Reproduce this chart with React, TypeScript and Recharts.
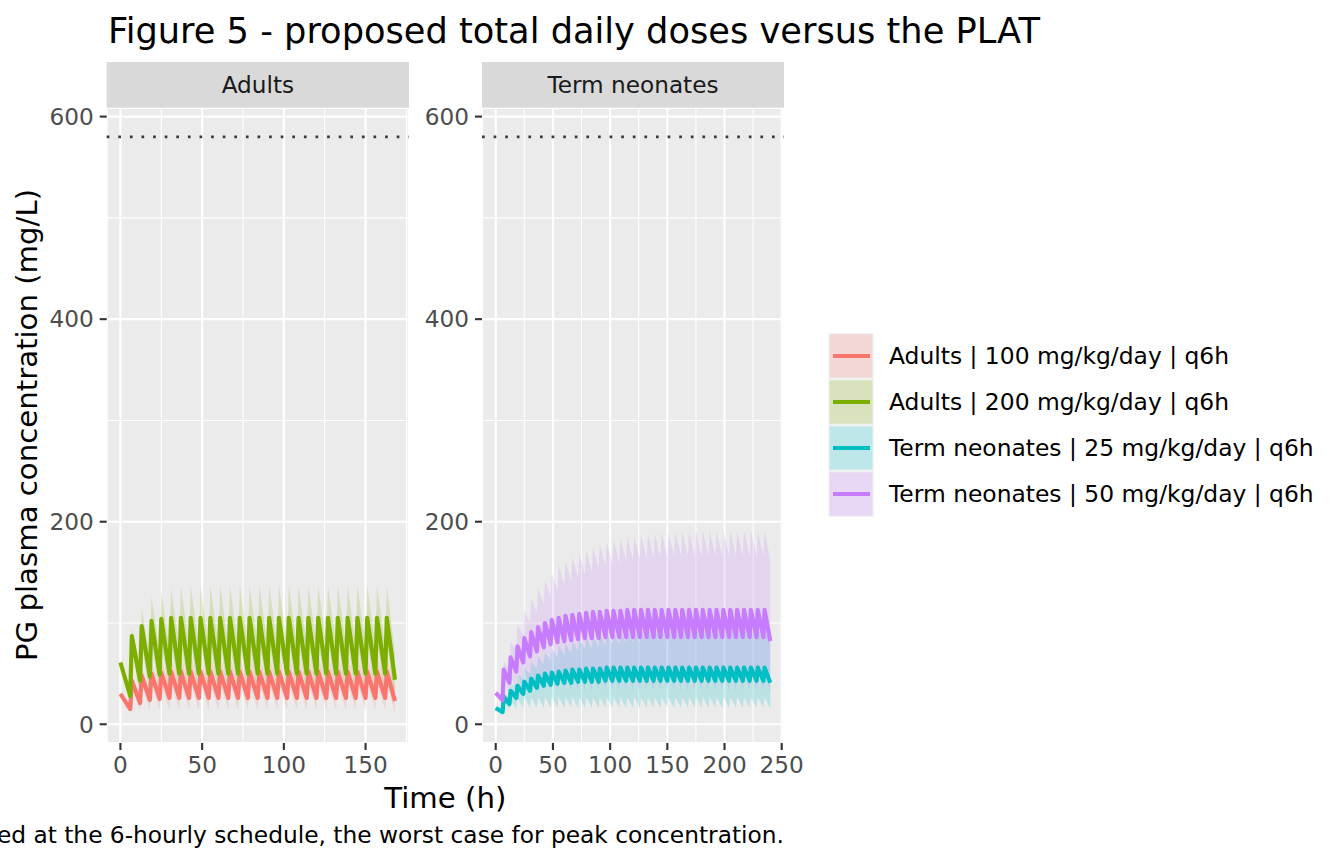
import { ComposedChart, Line, Area, XAxis, YAxis, CartesianGrid, ReferenceLine } from 'recharts';

const FONT = '"DejaVu Sans", sans-serif';

// sampling times (h): peak after each 6-hourly dose, trough just before the next one
const adultPeakHours = [0, 7, 13, 19, 25, 31, 37, 43, 49, 55, 61, 67, 73, 79, 85, 91, 97, 103, 109, 115, 121, 127, 133, 139, 145, 151, 157, 163];
const adultTroughHours = [6, 12, 18, 24, 30, 36, 42, 48, 54, 60, 66, 72, 78, 84, 90, 96, 102, 108, 114, 120, 126, 132, 138, 144, 150, 156, 162, 168];

const neoPeakHours = [0, 7, 13, 19, 25, 31, 37, 43, 49, 55, 61, 67, 73, 79, 85, 91, 97, 103, 109, 115, 121, 127, 133, 139, 145, 151, 157, 163, 169, 175, 181, 187, 193, 199, 205, 211, 217, 223, 229, 235];
const neoTroughHours = [6, 12, 18, 24, 30, 36, 42, 48, 54, 60, 66, 72, 78, 84, 90, 96, 102, 108, 114, 120, 126, 132, 138, 144, 150, 156, 162, 168, 174, 180, 186, 192, 198, 204, 210, 216, 222, 228, 234, 240];

// Adults | 100 mg/kg/day | q6h
const a100MidPeak = [30, 43, 48, 50, 51, 52, 52, 52, 52, 52, 52, 52, 52, 52, 52, 52, 52, 52, 52, 52, 52, 52, 52, 52, 52, 52, 52, 52];
const a100MidTrough = [15, 21, 24, 25, 26, 26, 26, 26, 26, 26, 26, 26, 26, 26, 26, 26, 26, 26, 26, 26, 26, 26, 26, 26, 26, 26, 26, 23];
const a100HiPeak = [31, 48, 57, 62, 65, 67, 68, 68, 68, 68, 68, 68, 68, 68, 68, 68, 68, 68, 68, 68, 68, 68, 68, 68, 68, 68, 68, 68];
const a100HiTrough = [17, 28, 33, 35, 37, 38, 38, 38, 38, 38, 38, 38, 38, 38, 38, 38, 38, 38, 38, 38, 38, 38, 38, 38, 38, 38, 38, 35];
const a100LoPeak = [29, 38, 40, 41, 41, 41, 41, 41, 41, 41, 41, 41, 41, 41, 41, 41, 41, 41, 41, 41, 41, 41, 41, 41, 41, 41, 41, 41];
const a100LoTrough = [13, 14, 14, 14, 14, 14, 14, 14, 14, 14, 14, 14, 14, 14, 14, 14, 14, 14, 14, 14, 14, 14, 14, 14, 14, 14, 14, 11];

// Adults | 200 mg/kg/day | q6h
const a200MidPeak = [61, 87, 97, 102, 104, 105, 105, 105, 105, 105, 105, 105, 105, 105, 105, 105, 105, 105, 105, 105, 105, 105, 105, 105, 105, 105, 105, 105];
const a200MidTrough = [28, 43, 47, 49, 50, 50, 50, 50, 50, 50, 50, 50, 50, 50, 50, 50, 50, 50, 50, 50, 50, 50, 50, 50, 50, 50, 50, 44];
const a200HiPeak = [62, 95, 115, 126, 131, 134, 136, 137, 137, 137, 137, 137, 137, 137, 137, 137, 137, 137, 137, 137, 137, 137, 137, 137, 137, 137, 137, 137];
const a200HiTrough = [34, 56, 66, 71, 74, 76, 77, 77, 77, 77, 77, 77, 77, 77, 77, 77, 77, 77, 77, 77, 77, 77, 77, 77, 77, 77, 77, 70];
const a200LoPeak = [58, 76, 80, 82, 82, 82, 82, 82, 82, 82, 82, 82, 82, 82, 82, 82, 82, 82, 82, 82, 82, 82, 82, 82, 82, 82, 82, 82];
const a200LoTrough = [26, 28, 28, 28, 28, 28, 28, 28, 28, 28, 28, 28, 28, 28, 28, 28, 28, 28, 28, 28, 28, 28, 28, 28, 28, 28, 28, 22];

// Term neonates | 25 mg/kg/day | q6h
const n25MidPeak = [16, 27, 33, 38, 42, 45, 48, 50, 51, 52, 53, 54, 54, 55, 55, 55, 56, 56, 56, 56, 56, 56, 56, 56, 56, 56, 56, 56, 56, 56, 56, 56, 56, 56, 56, 56, 56, 56, 56, 56];
const n25MidTrough = [12, 20, 26, 30, 33, 36, 38, 39, 40, 41, 41, 42, 42, 42, 42, 43, 43, 43, 43, 43, 43, 43, 43, 43, 43, 43, 43, 43, 43, 43, 43, 43, 43, 43, 43, 43, 43, 43, 43, 41];
const n25HiPeak = [17, 31, 41, 50, 56, 62, 67, 71, 75, 78, 80, 82, 84, 86, 87, 89, 90, 91, 92, 92, 93, 93, 94, 94, 94, 94, 95, 95, 95, 95, 95, 95, 95, 95, 95, 95, 95, 95, 95, 95];
const n25HiTrough = [14, 27, 36, 44, 50, 55, 59, 63, 66, 68, 70, 72, 74, 75, 77, 78, 79, 79, 80, 81, 81, 82, 82, 82, 82, 83, 83, 83, 83, 83, 83, 83, 83, 83, 83, 83, 83, 83, 83, 81];
const n25LoPeak = [15, 22, 25, 26, 27, 27, 27, 27, 27, 27, 27, 27, 27, 27, 27, 27, 27, 27, 27, 27, 27, 27, 27, 27, 27, 27, 27, 27, 27, 27, 27, 27, 27, 27, 27, 27, 27, 27, 27, 27];
const n25LoTrough = [11, 14, 15, 16, 16, 16, 16, 16, 16, 16, 16, 16, 16, 16, 16, 16, 16, 16, 16, 16, 16, 16, 16, 16, 16, 16, 16, 16, 16, 16, 16, 16, 16, 16, 16, 16, 16, 16, 16, 15];

// Term neonates | 50 mg/kg/day | q6h
const n50MidPeak = [31, 54, 66, 77, 85, 91, 96, 100, 103, 105, 107, 108, 109, 110, 111, 111, 112, 112, 112, 113, 113, 113, 113, 113, 113, 113, 113, 113, 113, 113, 113, 113, 113, 113, 113, 113, 113, 113, 113, 113];
const n50MidTrough = [24, 41, 52, 61, 67, 72, 76, 79, 81, 82, 83, 84, 85, 85, 85, 86, 86, 86, 86, 86, 86, 86, 86, 86, 86, 86, 86, 86, 86, 86, 86, 86, 86, 86, 86, 86, 86, 86, 86, 82];
const n50HiPeak = [33, 62, 82, 99, 112, 124, 134, 142, 150, 157, 161, 165, 169, 172, 175, 178, 180, 182, 184, 185, 186, 187, 188, 188, 189, 189, 190, 190, 190, 191, 191, 191, 191, 191, 191, 191, 191, 191, 191, 191];
const n50HiTrough = [28, 55, 73, 88, 100, 110, 119, 126, 132, 137, 141, 145, 148, 151, 154, 156, 158, 159, 161, 162, 163, 164, 164, 165, 165, 166, 166, 166, 166, 166, 166, 166, 166, 166, 166, 166, 166, 166, 166, 162];
const n50LoPeak = [29, 45, 50, 53, 54, 55, 55, 55, 55, 55, 55, 55, 55, 55, 55, 55, 55, 55, 55, 55, 55, 55, 55, 55, 55, 55, 55, 55, 55, 55, 55, 55, 55, 55, 55, 55, 55, 55, 55, 55];
const n50LoTrough = [22, 29, 31, 32, 33, 33, 33, 33, 33, 33, 33, 33, 33, 33, 33, 33, 33, 33, 33, 33, 33, 33, 33, 33, 33, 33, 33, 33, 33, 33, 33, 33, 33, 33, 33, 33, 33, 33, 33, 31];

const plat = 580;

const yTicks = [0, 200, 400, 600];
const yMinor = [100, 300, 500];
const adultTicks = [0, 50, 100, 150];
const adultMinor = [25, 75, 125, 175];
const neoTicks = [0, 50, 100, 150, 200, 250];
const neoMinor = [25, 75, 125, 175, 225];

const seriesNames = [
  'Adults | 100 mg/kg/day | q6h',
  'Adults | 200 mg/kg/day | q6h',
  'Term neonates | 25 mg/kg/day | q6h',
  'Term neonates | 50 mg/kg/day | q6h',
];
const seriesColors = ['#F8766D', '#7CAE00', '#00BFC4', '#C77CFF'];

// interleave peaks and troughs into rows sorted by time
const adultRows = adultPeakHours.flatMap((ph, i) => [
  {
    h: ph,
    a100: a100MidPeak[i],
    a100Band: [a100LoPeak[i], a100HiPeak[i]],
    a200: a200MidPeak[i],
    a200Band: [a200LoPeak[i], a200HiPeak[i]],
  },
  {
    h: adultTroughHours[i],
    a100: a100MidTrough[i],
    a100Band: [a100LoTrough[i], a100HiTrough[i]],
    a200: a200MidTrough[i],
    a200Band: [a200LoTrough[i], a200HiTrough[i]],
  },
]);

const neoRows = neoPeakHours.flatMap((ph, i) => [
  {
    h: ph,
    n25: n25MidPeak[i],
    n25Band: [n25LoPeak[i], n25HiPeak[i]],
    n50: n50MidPeak[i],
    n50Band: [n50LoPeak[i], n50HiPeak[i]],
  },
  {
    h: neoTroughHours[i],
    n25: n25MidTrough[i],
    n25Band: [n25LoTrough[i], n25HiTrough[i]],
    n50: n50MidTrough[i],
    n50Band: [n50LoTrough[i], n50HiTrough[i]],
  },
]);

const tickStyle = { fill: '#4D4D4D', fontSize: 23.2, fontFamily: FONT };
const tickLine = { stroke: '#333333', strokeWidth: 2.1 };

function Panel({ data, xDomain, xTicks, xMinor, yWidth, width, left, keys }) {
  return (
    <div style={{ position: 'absolute', left, top: 0 }}>
      <ComposedChart
        width={width}
        height={801}
        data={data}
        margin={{ top: 108, right: width - yWidth - 302, bottom: 0, left: 0 }}
      >
        <CartesianGrid fill="#EBEBEB" fillOpacity={1} stroke="#FFFFFF" strokeWidth={2.1} />
        <CartesianGrid
          horizontalValues={yMinor}
          verticalValues={xMinor}
          stroke="#FFFFFF"
          strokeWidth={1.05}
        />
        <XAxis
          type="number"
          dataKey="h"
          domain={xDomain}
          ticks={xTicks}
          allowDataOverflow
          axisLine={false}
          tickLine={tickLine}
          tickSize={7}
          tickMargin={7}
          tick={tickStyle}
          height={58}
        />
        <YAxis
          type="number"
          domain={[-18.5, 608.5]}
          ticks={yTicks}
          allowDataOverflow
          axisLine={false}
          tickLine={tickLine}
          tickSize={7}
          tickMargin={6}
          tick={tickStyle}
          width={yWidth}
        />
        <ReferenceLine y={plat} stroke="#3A3A3A" strokeWidth={2.7} strokeDasharray="2.7 8.9" />
        {keys.map((k) => (
          <Area
            key={k.id + 'Band'}
            type="linear"
            dataKey={k.id + 'Band'}
            stroke="none"
            fill={k.color}
            fillOpacity={0.2}
            isAnimationActive={false}
          />
        ))}
        {keys.map((k) => (
          <Line
            key={k.id}
            type="linear"
            dataKey={k.id}
            stroke={k.color}
            strokeWidth={4.2}
            strokeLinejoin="round"
            dot={false}
            activeDot={false}
            isAnimationActive={false}
          />
        ))}
      </ComposedChart>
    </div>
  );
}

export default function App() {
  return (
    <div
      style={{
        position: 'absolute',
        left: 0,
        top: 0,
        width: 1344,
        height: 864,
        background: '#FFFFFF',
        overflow: 'hidden',
        fontFamily: FONT,
      }}
    >
      <Panel
        data={adultRows}
        xDomain={[-8.4, 176.4]}
        xTicks={adultTicks}
        xMinor={adultMinor}
        yWidth={106.7}
        width={420}
        left={0}
        keys={[
          { id: 'a100', color: seriesColors[0] },
          { id: 'a200', color: seriesColors[1] },
        ]}
      />
      <Panel
        data={neoRows}
        xDomain={[-12, 252]}
        xTicks={neoTicks}
        xMinor={neoMinor}
        yWidth={62}
        width={410}
        left={420}
        keys={[
          { id: 'n25', color: seriesColors[2] },
          { id: 'n50', color: seriesColors[3] },
        ]}
      />
      <svg
        width={1344}
        height={864}
        style={{ position: 'absolute', left: 0, top: 0, pointerEvents: 'none' }}
        fontFamily={FONT}
      >
        <text x={108} y={43} fontSize={35.2} fill="#000000">
          Figure 5 - proposed total daily doses versus the PLAT
        </text>
        <rect x={106.7} y={62} width={302.3} height={45.7} fill="#D9D9D9" />
        <text x={257.9} y={92.5} fontSize={23.2} fill="#1A1A1A" textAnchor="middle">
          Adults
        </text>
        <rect x={482} y={62} width={302} height={45.7} fill="#D9D9D9" />
        <text x={633} y={92.5} fontSize={23.2} fill="#1A1A1A" textAnchor="middle">
          Term neonates
        </text>
        <text
          x={37}
          y={425}
          fontSize={29.2}
          fill="#000000"
          textAnchor="middle"
          transform="rotate(-90, 37, 425)"
        >
          PG plasma concentration (mg/L)
        </text>
        <text x={445.3} y={808} fontSize={29.2} fill="#000000" textAnchor="middle">
          Time (h)
        </text>
        <text x={784} y={843} fontSize={23.3} fill="#000000" textAnchor="end">
          ed at the 6-hourly schedule, the worst case for peak concentration.
        </text>
        {seriesNames.map((name, i) => {
          const top = 333 + i * 46;
          return (
            <g key={name}>
              <rect x={828.3} y={top} width={45.5} height={46} fill="#F2F2F2" />
              <rect
                x={829.6}
                y={top + 1.3}
                width={42.9}
                height={43.4}
                fill={seriesColors[i]}
                fillOpacity={0.22}
              />
              <line
                x1={833}
                x2={870}
                y1={top + 23}
                y2={top + 23}
                stroke={seriesColors[i]}
                strokeWidth={4.2}
              />
              <text x={889} y={top + 31.4} fontSize={23.4} fill="#000000">
                {name}
              </text>
            </g>
          );
        })}
      </svg>
    </div>
  );
}
